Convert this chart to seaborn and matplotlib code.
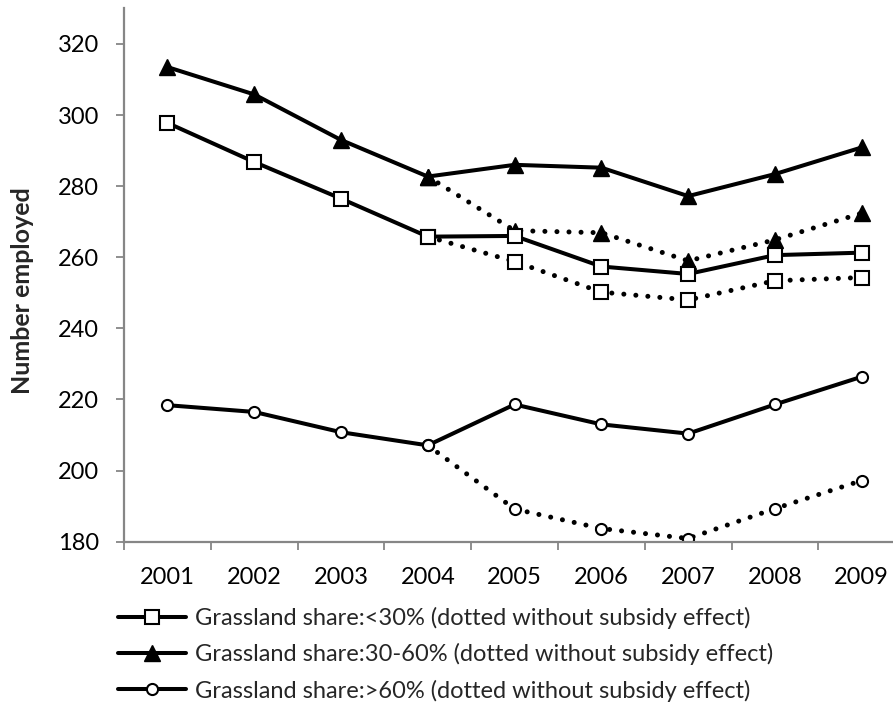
import matplotlib
matplotlib.use("Agg")
import matplotlib.pyplot as plt
from matplotlib.lines import Line2D
from matplotlib.ticker import FixedLocator
import numpy as np
import pandas as pd
import seaborn as sns

years = [2001, 2002, 2003, 2004, 2005, 2006, 2007, 2008, 2009]

low_share = [297.8, 286.8, 276.5, 265.8, 266.0, 257.4, 255.3, 260.6, 261.3]
low_share_nosub = [np.nan, np.nan, np.nan, 265.8, 258.8, 250.2, 248.0, 253.4, 254.3]
mid_share = [313.5, 305.8, 293.0, 282.7, 286.0, 285.2, 277.2, 283.4, 290.9]
mid_share_nosub = [np.nan, np.nan, np.nan, 282.7, 267.5, 266.9, 259.0, 264.9, 272.4]
high_share = [218.4, 216.5, 210.8, 207.1, 218.6, 213.0, 210.4, 218.6, 226.4]
high_share_nosub = [np.nan, np.nan, np.nan, 207.1, 189.2, 183.7, 180.9, 189.3, 197.2]

labels = [
    "Grassland share:<30% (dotted without subsidy effect)",
    "Grassland share:30-60% (dotted without subsidy effect)",
    "Grassland share:>60% (dotted without subsidy effect)",
]

sns.set_theme(style="white")
plt.rcParams["font.family"] = ["Lato", "DejaVu Sans"]

fig = plt.figure(figsize=(8.93, 7.07), dpi=100)
ax = fig.add_axes([124 / 893, 1 - 541.7 / 707, 1 - 124 / 893, (541.7 - 8.4) / 707])

axis_grey = "#868686"
marker_styles = [
    dict(marker="s", markersize=10, markerfacecolor="white", markeredgecolor="black", markeredgewidth=1.5),
    dict(marker="^", markersize=11, markerfacecolor="black", markeredgecolor="black", markeredgewidth=1.0),
    dict(marker="o", markersize=8, markerfacecolor="white", markeredgecolor="black", markeredgewidth=1.5),
]

series = [
    (low_share, low_share_nosub),
    (mid_share, mid_share_nosub),
    (high_share, high_share_nosub),
]

for (solid, dotted), mk in zip(series, marker_styles):
    df = pd.DataFrame({"year": years, "solid": solid, "dotted": dotted})
    # dotted "without subsidy" path first so the solid line sits on top
    sns.lineplot(x="year", y="dotted", data=df.dropna(), ax=ax, color="black",
                 linewidth=3.6, linestyle=(0, (0.01, 2.4)), dash_capstyle="round",
                 zorder=2, **mk)
    sns.lineplot(x="year", y="solid", data=df, ax=ax, color="black",
                 linewidth=2.9, zorder=3, **mk)

ax.set_xlim(2000.5, 2009.36)
ax.set_ylim(180, 330)
ax.set_xticks(years)
ax.set_xticklabels([str(y) for y in years])
ax.xaxis.set_minor_locator(FixedLocator(np.arange(2000.5, 2010, 1.0)))
ax.set_yticks(np.arange(180, 321, 20))
ax.tick_params(axis="x", which="major", length=0, pad=18, labelsize=17, colors="black")
ax.tick_params(axis="x", which="minor", length=6, width=1.3, color=axis_grey, direction="out", bottom=True)
ax.tick_params(axis="y", length=6, width=1.3, color=axis_grey, direction="out", labelsize=17,
               pad=12, left=True, labelcolor="black")

for side in ["top", "right"]:
    ax.spines[side].set_visible(False)
for side in ["left", "bottom"]:
    ax.spines[side].set_color(axis_grey)
    ax.spines[side].set_linewidth(1.6)

ax.set_xlabel("")
ax.set_ylabel("Number employed", fontsize=18, fontweight="bold")
ax.yaxis.set_label_coords(-0.117, 0.47)

handles = [Line2D([0], [0], color="black", linewidth=2.9, **mk) for mk in marker_styles]
fig.legend(handles, labels, loc="upper left", bbox_to_anchor=(118 / 893, 1 - 607 / 707),
           frameon=False, fontsize=17, handlelength=2.9, handletextpad=0.35,
           labelspacing=0.6, borderaxespad=0, borderpad=0)

fig.savefig("out.png", dpi=100)
